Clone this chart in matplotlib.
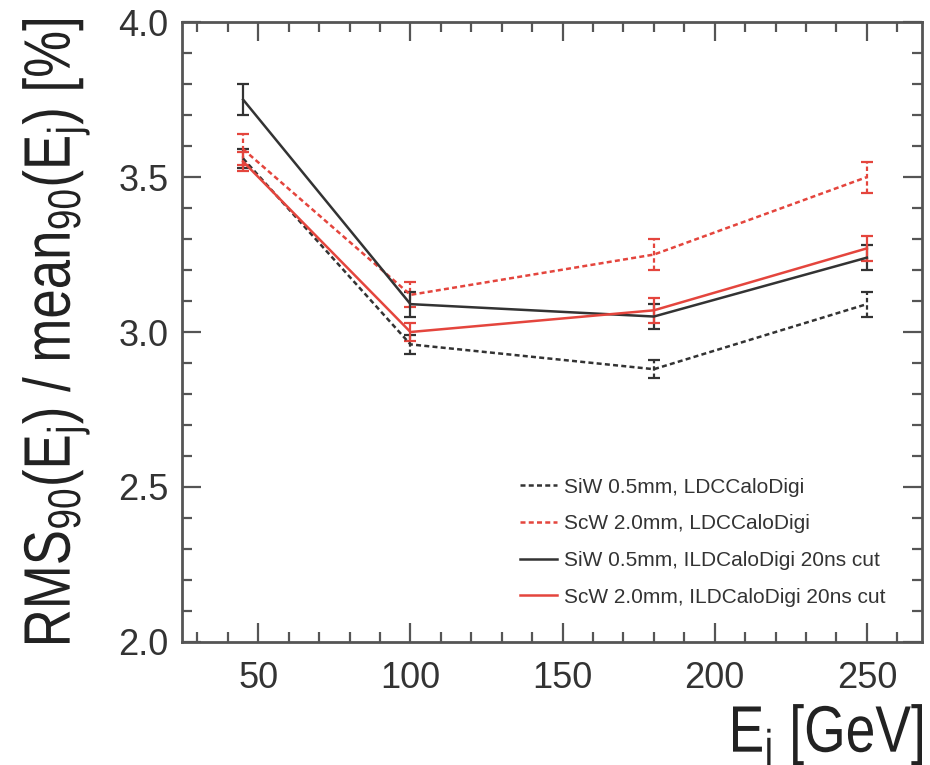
import matplotlib
matplotlib.use("Agg")
import matplotlib.pyplot as plt
from matplotlib.font_manager import FontProperties
from matplotlib.lines import Line2D
from matplotlib.patches import PathPatch
from matplotlib.textpath import TextPath
from matplotlib.transforms import Affine2D, IdentityTransform
from matplotlib.ticker import MultipleLocator, FormatStrFormatter

plt.rcParams['font.family'] = ['Liberation Sans', 'DejaVu Sans']
plt.rcParams['mathtext.default'] = 'regular'

# jet energies [GeV]
energy = [45, 100, 180, 250]

# RMS90/mean90 [%] and statistical errors
siw_ldc = [3.56, 2.96, 2.88, 3.09]
siw_ldc_err = [0.03, 0.03, 0.03, 0.04]
scw_ldc = [3.59, 3.12, 3.25, 3.50]
scw_ldc_err = [0.05, 0.04, 0.05, 0.05]
siw_ild = [3.75, 3.09, 3.05, 3.24]
siw_ild_err = [0.05, 0.04, 0.04, 0.04]
scw_ild = [3.55, 3.00, 3.07, 3.27]
scw_ild_err = [0.03, 0.03, 0.04, 0.04]

labels = ["SiW 0.5mm, LDCCaloDigi",
          "ScW 2.0mm, LDCCaloDigi",
          "SiW 0.5mm, ILDCaloDigi 20ns cut",
          "ScW 2.0mm, ILDCaloDigi 20ns cut"]

ytitle = r'RMS$_{90}$(E$_{j}$) / mean$_{90}$(E$_{j}$) [%]'
xtitle = r'E$_{j}$ [GeV]'

black = '#333333'
red = '#e4453d'
dash = (0, (2.0, 1.3))


def narrow_title(fig, s, cap_px, length_px, x, y, angle):
    """Draw s as a filled outline, squeezed along the writing direction.
    (x, y) is the start of the baseline in figure pixels."""
    tp = TextPath((0, 0), s, size=cap_px / 0.716,
                  prop=FontProperties(family='Liberation Sans'))
    ext = tp.get_extents()
    tr = (Affine2D().translate(-ext.x0, 0).scale(length_px / ext.width, 1)
          .rotate_deg(angle).translate(x, y))
    fig.add_artist(PathPatch(tr.transform_path(tp), transform=IdentityTransform(),
                             facecolor='#222222', edgecolor='none'))


fig = plt.figure(figsize=(9.3, 7.65), dpi=100)
ax = fig.add_axes([0.196, 0.161, 0.795, 0.81])

series = [
    (siw_ldc, siw_ldc_err, black, dash),
    (scw_ldc, scw_ldc_err, red, dash),
    (siw_ild, siw_ild_err, black, '-'),
    (scw_ild, scw_ild_err, red, '-'),
]
handles = []
for (y, err, col, ls), lab in zip(series, labels):
    cont = ax.errorbar(energy, y, yerr=err, color=col, linestyle=ls, linewidth=1.8,
                       elinewidth=1.6, capsize=4, capthick=1.6)
    if ls != '-':
        cont[2][0].set_linestyle(dash)
    handles.append(Line2D([], [], color=col, linestyle=ls, linewidth=1.8, label=lab))

ax.set_xlim(25, 268)
ax.set_ylim(2.0, 4.0)
ax.xaxis.set_major_locator(MultipleLocator(50))
ax.xaxis.set_minor_locator(MultipleLocator(10))
ax.yaxis.set_major_locator(MultipleLocator(0.5))
ax.yaxis.set_minor_locator(MultipleLocator(0.1))
ax.yaxis.set_major_formatter(FormatStrFormatter('%.1f'))

ax.tick_params(which='both', direction='in', top=True, right=True,
               color='#555555', width=1.6)
ax.tick_params(which='major', length=14, labelsize=26, labelcolor='#333333')
ax.tick_params(which='minor', length=7)
ax.tick_params(axis='x', pad=14)
ax.tick_params(axis='y', pad=10)
for s in ax.spines.values():
    s.set_color('#555555')
    s.set_linewidth(2)

# axis titles in a condensed face
narrow_title(fig, ytitle, 47, 623, 70, 122, 90)
narrow_title(fig, xtitle, 47, 189, 733, 13, 0)

ax.legend(handles=handles, loc='upper left', bbox_to_anchor=(0.457, 0.265),
          frameon=False, fontsize=15, handlelength=1.75, handletextpad=0.35,
          labelspacing=0.85, borderpad=0, borderaxespad=0, labelcolor='#333333')

fig.savefig('out.png', dpi=100)
